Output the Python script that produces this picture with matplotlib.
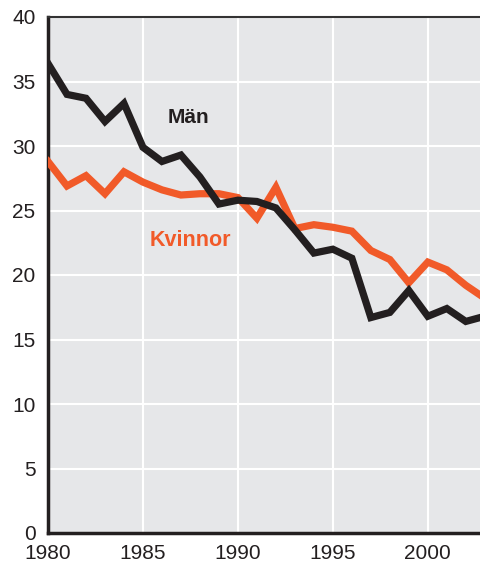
import numpy as np
import matplotlib
matplotlib.use('Agg')
import matplotlib.pyplot as plt

# data
years = list(range(1980, 2004))
man = [36.4, 34.0, 33.7, 31.9, 33.3, 29.9, 28.8, 29.3, 27.6, 25.5, 25.8, 25.7,
       25.2, 23.5, 21.7, 22.0, 21.3, 16.7, 17.1, 18.8, 16.8, 17.4, 16.4, 16.8]
kvinnor = [28.8, 26.9, 27.7, 26.3, 28.0, 27.2, 26.6, 26.2, 26.3, 26.3, 26.0, 24.4,
           26.8, 23.6, 23.9, 23.7, 23.4, 21.9, 21.2, 19.4, 21.0, 20.4, 19.2, 18.2]
xticks = [1980, 1985, 1990, 1995, 2000]
yticks = [0, 5, 10, 15, 20, 25, 30, 35, 40]

svart = '#231f20'
orange = '#f15a29'

plt.rcParams['font.family'] = ['Liberation Sans', 'DejaVu Sans']

fig = plt.figure(figsize=(4.81, 5.65), dpi=100)
ax = fig.add_axes([48/481, 1-533/565, 1-48/481, (533-17)/565])
ax.set_facecolor('#e6e7e9')

ax.plot(years, kvinnor, color=orange, lw=5.2, solid_joinstyle='miter', zorder=3)
ax.plot(years, man, color=svart, lw=5.2, solid_joinstyle='miter', zorder=4)

ax.text(1987.4, 32.2, 'Män', color=svart, fontsize=15, fontweight='bold', ha='center', va='center')
ax.text(1987.5, 22.7, 'Kvinnor', color=orange, fontsize=15.5, fontweight='bold', ha='center', va='center')

ax.set_xlim(1980, 2002.8)
ax.set_ylim(0, 40)
ax.set_xticks(xticks)
ax.set_yticks(yticks)
ax.grid(True, color='white', lw=1.5)
ax.set_axisbelow(True)
ax.tick_params(length=0, labelsize=15, colors='#231f20')
ax.tick_params(axis='y', pad=9)
ax.tick_params(axis='x', pad=8)

for s in ['left', 'bottom']:
    ax.spines[s].set_linewidth(2.5)
    ax.spines[s].set_color(svart)
ax.spines['top'].set_linewidth(1.5)
ax.spines['top'].set_color('#333333')
ax.spines['right'].set_visible(False)

fig.savefig('out.png', dpi=100)
